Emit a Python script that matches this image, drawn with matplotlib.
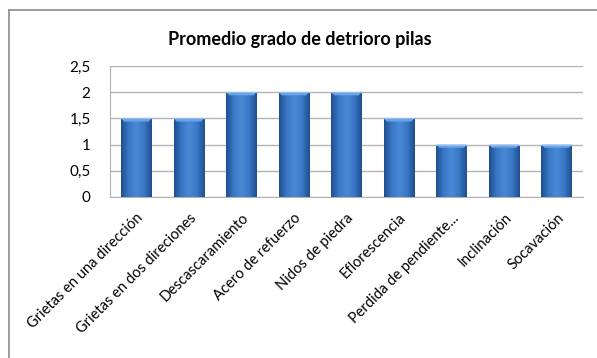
import numpy as np
import matplotlib
matplotlib.use("Agg")
import matplotlib.pyplot as plt
from matplotlib.colors import LinearSegmentedColormap
from matplotlib.lines import Line2D

categories = [
    "Grietas en una dirección",
    "Grietas en dos direciones",
    "Descascaramiento",
    "Acero de refuerzo",
    "Nidos de piedra",
    "Eflorescencia",
    "Perdida de pendiente...",
    "Inclinación",
    "Socavación",
]
values = [1.5, 1.5, 2, 2, 2, 1.5, 1, 1, 1]
y_ticks = [0, 0.5, 1, 1.5, 2, 2.5]
y_tick_labels = ["0", "0,5", "1", "1,5", "2", "2,5"]
title = "Promedio grado de detrioro pilas"

plt.rcParams["font.family"] = ["Lato", "DejaVu Sans"]

fig = plt.figure(figsize=(5.97, 3.58), dpi=100)
ax = fig.add_axes([110 / 597, 1 - 197 / 358, 473 / 597, 131 / 358])

n = len(categories)
x = np.arange(n)
width = 0.58

# horizontal shading across each bar: dark edges, lighter middle
shade = LinearSegmentedColormap.from_list(
    "barshade", ["#1f4f8f", "#3a78c6", "#4a89d6", "#3a78c6", "#1f4f8f"]
)
grad = np.linspace(0, 1, 64).reshape(1, -1)

bars = ax.bar(x, values, width=width, color="none", edgecolor="none", zorder=3)
for b in bars:
    x0, y0 = b.get_x(), b.get_y()
    w, h = b.get_width(), b.get_height()
    im = ax.imshow(grad, cmap=shade, aspect="auto",
                   extent=[x0, x0 + w, y0, y0 + h], zorder=3)
    im.set_clip_path(b)
    # lighter bevel on the top edge
    ax.fill([x0, x0 + w, x0 + w * 0.9, x0 + w * 0.1],
            [y0 + h, y0 + h, y0 + h - 0.06, y0 + h - 0.06],
            color="#6aa3e6", zorder=4, lw=0)
    ax.plot([x0, x0 + w], [y0 + h, y0 + h], color="#8fbdf0", lw=0.8, zorder=5)

ax.set_xlim(-0.5, n - 0.5)
ax.set_ylim(0, 2.5)
ax.set_yticks(y_ticks)
ax.set_yticklabels(y_tick_labels, fontsize=11)
ax.set_xticks(x)
ax.set_xticklabels(categories, rotation=45, ha="right", va="top",
                   rotation_mode="anchor", fontsize=10.5)
ax.tick_params(axis="both", length=0, colors="black")
ax.tick_params(axis="y", pad=14)
ax.tick_params(axis="x", pad=10)

ax.grid(axis="y", color="#b3b3b3", lw=1.0, zorder=0)
ax.set_axisbelow(True)
for side in ["top", "right"]:
    ax.spines[side].set_visible(False)
ax.spines["left"].set_color("#b3b3b3")
ax.spines["bottom"].set_color("#b3b3b3")

fig.text(300 / 597, 1 - 40 / 358, title, ha="center", va="center",
         fontsize=13, fontweight="bold")

# outer chart frame
fig.add_artist(Line2D([9 / 597, 1.0], [1 - 10 / 358, 1 - 10 / 358],
                      transform=fig.transFigure, color="#8c8c8c", lw=1.2))
fig.add_artist(Line2D([9 / 597, 9 / 597], [1 - 10 / 358, 0.0],
                      transform=fig.transFigure, color="#8c8c8c", lw=1.2))

fig.savefig("out.png", dpi=100)
